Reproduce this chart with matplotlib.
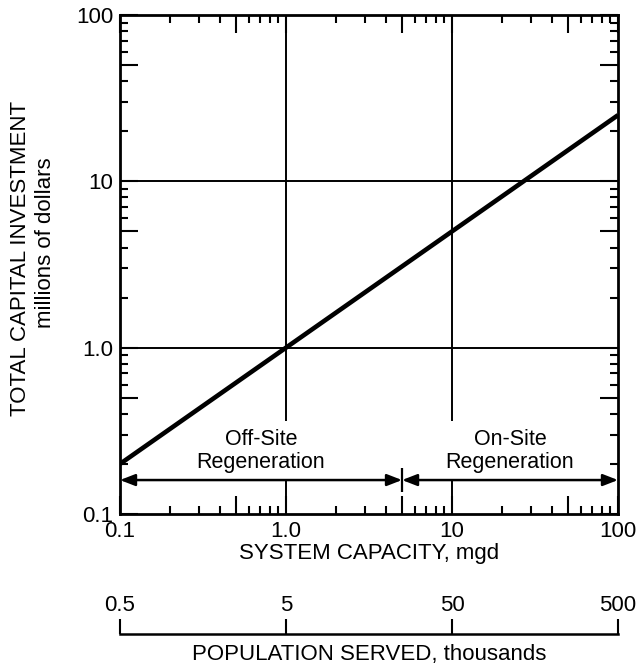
import numpy as np
import matplotlib
matplotlib.use('Agg')
import matplotlib.pyplot as plt
from matplotlib.ticker import FixedLocator, FixedFormatter, NullLocator

plt.rcParams['font.family'] = ['Liberation Sans', 'DejaVu Sans']

# data
capacity = [0.1, 1.0, 10.0, 100.0]          # mgd
investment = [0.2, 1.0, 5.0, 25.0]          # millions of dollars
decade_ticks = [0.1, 1.0, 10.0, 100.0]
decade_labels = ['0.1', '1.0', '10', '100']
half_ticks = [0.5, 5.0, 50.0]
pop_ticks = [0.5, 5, 50, 500]
pop_labels = ['0.5', '5', '50', '500']
split_cap = 5.0      # boundary off-site / on-site
arrow_y = 0.16

fs = 16
fig = plt.figure(figsize=(6.43, 6.68), dpi=100)
ax = fig.add_axes([120/643, 1-514/668, 498/643, 499/668])

ax.plot(capacity, investment, color='black', lw=3.3, solid_capstyle='butt', zorder=5)
ax.set_xscale('log')
ax.set_yscale('log')
ax.set_xlim(0.1, 100)
ax.set_ylim(0.1, 100)

minor = [d*m for d in decade_ticks[:-1] for m in (2, 3, 4, 6, 7, 8, 9)]
major = sorted(decade_ticks + half_ticks)
for axis in (ax.xaxis, ax.yaxis):
    axis.set_major_locator(FixedLocator(major))
    axis.set_major_formatter(FixedFormatter([decade_labels[decade_ticks.index(v)] if v in decade_ticks else '' for v in major]))
    axis.set_minor_locator(FixedLocator(minor))

ax.tick_params(which='both', direction='in', top=True, right=True, width=1.5, color='black')
ax.tick_params(which='major', length=13, labelsize=fs, pad=5)
ax.tick_params(which='minor', length=6)
for s in ax.spines.values():
    s.set_linewidth(2)

for v in decade_ticks[1:-1]:
    ax.axvline(v, color='black', lw=1.4, zorder=1)
    ax.axhline(v, color='black', lw=1.4, zorder=1)

ax.set_xlabel('SYSTEM CAPACITY, mgd', fontsize=fs, labelpad=1)

# y label as two centred lines
fig.text(21/643, 1-258/668, 'TOTAL CAPITAL INVESTMENT', rotation=90, fontsize=fs,
         ha='center', va='center')
fig.text(46/643, 1-243/668, 'millions of dollars', rotation=90, fontsize=fs,
         ha='center', va='center')

# region arrows
aprops = dict(arrowstyle='<|-|>,head_length=0.9,head_width=0.35', color='black',
              lw=1.8, shrinkA=0, shrinkB=0)
ax.annotate('', xy=(capacity[0], arrow_y), xytext=(split_cap, arrow_y),
            arrowprops=aprops, zorder=6)
ax.annotate('', xy=(split_cap, arrow_y), xytext=(capacity[-1], arrow_y),
            arrowprops=aprops, zorder=6)
ax.plot(split_cap, arrow_y, marker='|', markersize=17, mew=1.6, color='black', zorder=6)

box = dict(facecolor='white', edgecolor='none', boxstyle='square,pad=0.35')
ax.text(np.sqrt(capacity[0]*split_cap), 0.24, 'Off-Site\nRegeneration', fontsize=15.5,
        ha='center', va='center', linespacing=1.15, bbox=box, zorder=3)
ax.text(np.sqrt(split_cap*capacity[-1]), 0.24, 'On-Site\nRegeneration', fontsize=15.5,
        ha='center', va='center', linespacing=1.15, bbox=box, zorder=3)

# population scale
ax2 = fig.add_axes([120/643, 1-634/668, 498/643, 1e-4])
ax2.set_xscale('log')
ax2.set_xlim(0.5, 500)
ax2.set_yticks([])
for k in ('left', 'right', 'top'):
    ax2.spines[k].set_visible(False)
ax2.spines['bottom'].set_linewidth(1.8)
ax2.set_facecolor('none')
ax2.xaxis.set_major_locator(FixedLocator(pop_ticks))
ax2.xaxis.set_major_formatter(FixedFormatter(pop_labels))
ax2.xaxis.set_minor_locator(NullLocator())
ax2.tick_params(axis='x', which='major', direction='in', length=11, width=1.5,
                bottom=True, top=False, labelbottom=False, labeltop=True,
                labelsize=fs, pad=13)
ax2.set_xlabel('POPULATION SERVED, thousands', fontsize=fs, labelpad=7)

fig.savefig('out.png', dpi=100)
